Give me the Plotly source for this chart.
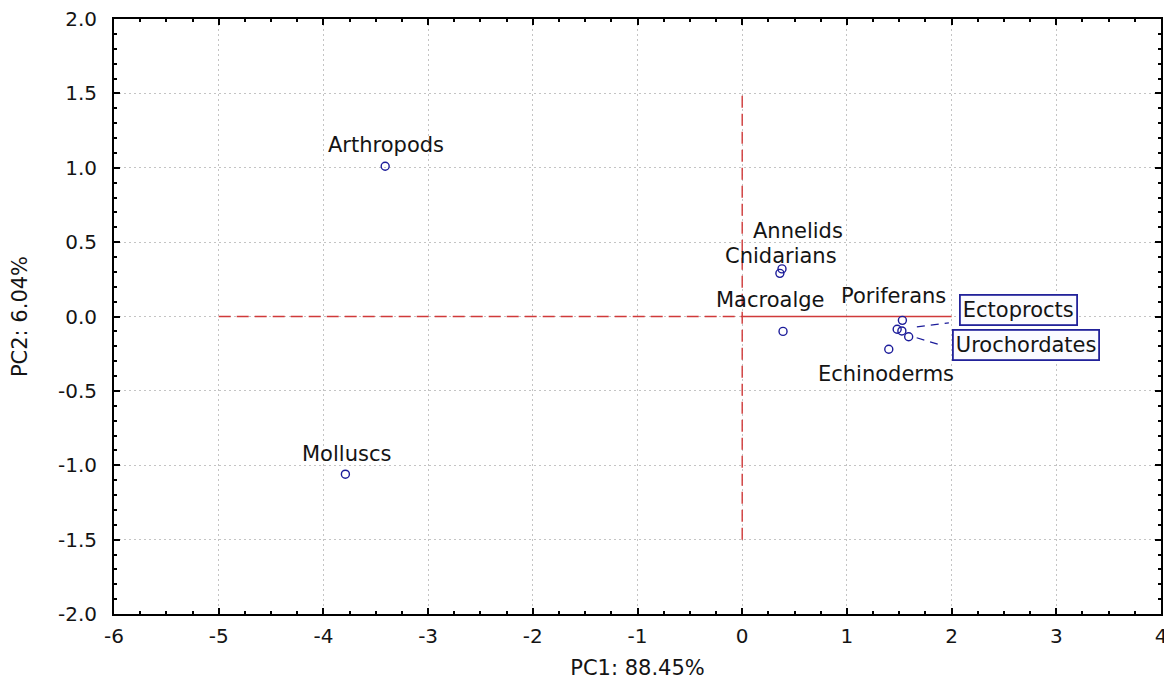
import plotly.graph_objects as go

# ---- data ----
names = ["Arthropods", "Molluscs", "Annelids", "Cnidarians", "Macroalge",
         "Poriferans", "", "Ectoprocts", "Urochordates", "Echinoderms"]
pc1 = [-3.41, -3.79, 0.38, 0.36, 0.39, 1.53, 1.48, 1.525, 1.59, 1.40]
pc2 = [1.01, -1.06, 0.32, 0.29, -0.10, -0.026, -0.086, -0.097, -0.136, -0.22]

x_ticks = [-6, -5, -4, -3, -2, -1, 0, 1, 2, 3, 4]
y_ticks = [2.0, 1.5, 1.0, 0.5, 0.0, -0.5, -1.0, -1.5, -2.0]

# reference lines
ref_h_dash_x = [-5, 0]
ref_h_solid_x = [0, 2]
ref_v_dash_y = [-1.5, 1.5]

x_title = "PC1: 88.45%"
y_title = "PC2: 6.04%"

# ---- style ----
FONT = "DejaVu Sans"
TXT = "#141414"
MK = "#1c1c9a"
RED = "#d03a3a"

# label offsets in pixels (dx, dy up-positive), boxed flag
label_style = {
    "Arthropods": (1, 21, False),
    "Molluscs": (1, 20, False),
    "Annelids": (16, 38, False),
    "Cnidarians": (1, 17, False),
    "Macroalge": (-13, 31, False),
    "Poriferans": (-9, 24, False),
    "Echinoderms": (-3, -25, False),
    "Ectoprocts": (117, 21, True),
    "Urochordates": (117, -8, True),
}
# leader lines (pixel offsets relative to the point) for boxed labels
leaders = {
    "Ectoprocts": (15, 4, 47, 8),
    "Urochordates": (8, -1, 31, -8),
}

fig = go.Figure()

fig.add_trace(go.Scatter(x=ref_h_dash_x, y=[0, 0], mode="lines",
                         line=dict(color=RED, width=1.4, dash="12px,6px"),
                         hoverinfo="skip", showlegend=False))
fig.add_trace(go.Scatter(x=ref_h_solid_x, y=[0, 0], mode="lines",
                         line=dict(color=RED, width=1.4),
                         hoverinfo="skip", showlegend=False))
fig.add_trace(go.Scatter(x=[0, 0], y=ref_v_dash_y, mode="lines",
                         line=dict(color=RED, width=1.4, dash="12px,6px"),
                         hoverinfo="skip", showlegend=False))

fig.add_trace(go.Scatter(x=pc1, y=pc2, mode="markers",
                         marker=dict(symbol="circle-open", size=8, color=MK,
                                     line=dict(width=1.4, color=MK)),
                         showlegend=False))

for n, x, y in zip(names, pc1, pc2):
    if not n:
        continue
    dx, dy, boxed = label_style[n]
    ann = dict(x=x, y=y, xref="x", yref="y", text=n, showarrow=False,
               xshift=dx, yshift=dy, font=dict(family=FONT, size=21, color=TXT))
    if boxed:
        ann.update(bordercolor="#22229a", borderwidth=1.8, borderpad=2,
                   bgcolor="#fbfbff")
    fig.add_annotation(**ann)
    if n in leaders:
        x0, y0, x1, y1 = leaders[n]
        fig.add_shape(type="line", xref="x", yref="y",
                      xsizemode="pixel", ysizemode="pixel",
                      xanchor=x, yanchor=y, x0=x0, x1=x1, y0=y0, y1=y1,
                      line=dict(color="#1c1c9a", width=1.2, dash="8px,6px"))

axis_common = dict(
    showline=True, linecolor="black", linewidth=2, mirror="allticks",
    ticks="inside", ticklen=6, tickwidth=1.5, tickcolor="black",
    showgrid=True, gridcolor="#c4c4c4", griddash="2px,3px", gridwidth=1,
    zeroline=False, automargin=False, ticklabeloverflow="allow",
    tickfont=dict(family=FONT, size=20, color=TXT),
    title_font=dict(family=FONT, size=21, color=TXT),
)

fig.update_xaxes(range=[-6, 4], tickvals=x_ticks,
                 ticktext=[str(v) for v in x_ticks],
                 minor=dict(dtick=0.25, ticks="inside", ticklen=3,
                            tickcolor="black", showgrid=False),
                 ticklabelstandoff=3,
                 title=dict(text=x_title, standoff=13), **axis_common)
fig.update_yaxes(range=[-2, 2], tickvals=y_ticks,
                 ticktext=[f"{v:.1f}" for v in y_ticks],
                 minor=dict(dtick=0.1, ticks="inside", ticklen=3,
                            tickcolor="black", showgrid=False),
                 ticklabelstandoff=11,
                 title=dict(text=y_title, standoff=30), **axis_common)

fig.update_layout(width=1160, height=675,
                  margin=dict(l=106, r=7, t=11, b=69),
                  paper_bgcolor="white", plot_bgcolor="white",
                  showlegend=False)

fig.write_html("out.html")
